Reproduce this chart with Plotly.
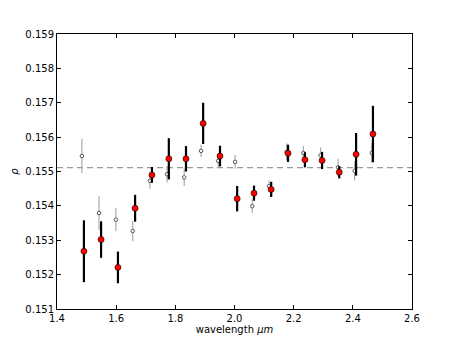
import plotly.graph_objects as go

# red points (black error bars)
wl_red = [1.491, 1.549, 1.606, 1.664, 1.721, 1.778, 1.836, 1.894, 1.951,
          2.009, 2.066, 2.124, 2.181, 2.238, 2.296, 2.354, 2.411, 2.468]
rho_red = [0.15268, 0.15302, 0.15221, 0.15393, 0.15490, 0.15537, 0.15537, 0.15640, 0.15545,
           0.15421, 0.15437, 0.15448, 0.15553, 0.15534, 0.15532, 0.15498, 0.15550, 0.15609]
err_red = [0.00090, 0.00053, 0.00046, 0.00039, 0.00023, 0.00060, 0.00037, 0.00060, 0.00030,
           0.00037, 0.00022, 0.00022, 0.00025, 0.00022, 0.00025, 0.00018, 0.00062, 0.00082]

# small open points (grey error bars)
wl_grey = [1.484, 1.542, 1.599, 1.656, 1.714, 1.772, 1.830, 1.887, 1.945,
           2.002, 2.060, 2.117, 2.176, 2.233, 2.291, 2.350, 2.406, 2.464]
rho_grey = [0.15545, 0.15379, 0.15360, 0.15327, 0.15473, 0.15492, 0.15483, 0.15560, 0.15531,
            0.15528, 0.15399, 0.15457, 0.15557, 0.15554, 0.15547, 0.15512, 0.15502, 0.15554]
err_grey = [0.00050, 0.00049, 0.00033, 0.00030, 0.00023, 0.00024, 0.00025, 0.00018, 0.00020,
            0.00020, 0.00020, 0.00017, 0.00025, 0.00020, 0.00023, 0.00025, 0.00028, 0.00028]

rho_mean = 0.15511

x_ticks = [1.4, 1.6, 1.8, 2.0, 2.2, 2.4, 2.6]
y_ticks = [0.151, 0.152, 0.153, 0.154, 0.155, 0.156, 0.157, 0.158, 0.159]

fig = go.Figure()

fig.add_shape(
    type="line", xref="paper", x0=0, x1=1, yref="y", y0=rho_mean, y1=rho_mean,
    line=dict(color="#999999", width=1.2, dash="6px,4px"), layer="below",
)

fig.add_trace(go.Scatter(
    x=wl_grey, y=rho_grey, mode="markers",
    error_y=dict(type="data", array=err_grey, color="#aaaaaa", thickness=1.2, width=0),
    marker=dict(size=3.5, color="white", line=dict(color="#555555", width=1)),
    showlegend=False,
))

fig.add_trace(go.Scatter(
    x=wl_red, y=rho_red, mode="markers",
    error_y=dict(type="data", array=err_red, color="black", thickness=2.2, width=0),
    marker=dict(size=6, color="#ff0000", line=dict(color="black", width=0.6)),
    showlegend=False,
))

axis_style = dict(
    showline=True, linecolor="black", linewidth=1, mirror="ticks",
    ticks="inside", ticklen=4, tickcolor="black", showgrid=False, zeroline=False,
    tickfont=dict(size=10, color="black"),
)

# page body has an 8px margin, so the figure is a little smaller than the window
fig.update_layout(
    width=442, height=327,
    paper_bgcolor="white", plot_bgcolor="white",
    font=dict(family="DejaVu Sans", size=10, color="black"),
    margin=dict(t=26, b=26, l=49, r=38),
    xaxis=dict(
        range=[1.4, 2.6], tickvals=x_ticks, ticktext=[f"{v:.1f}" for v in x_ticks],
        title=dict(text="wavelength <i>μm</i>", standoff=4, font=dict(size=10)),
        automargin=False,
        **axis_style,
    ),
    yaxis=dict(
        range=[0.151, 0.159], tickvals=y_ticks, ticktext=[f"{v:.3f}" for v in y_ticks],
        title=dict(text="<i>ρ</i>", standoff=4, font=dict(size=10)),
        automargin=False,
        **axis_style,
    ),
)

fig.write_html("out.html")
